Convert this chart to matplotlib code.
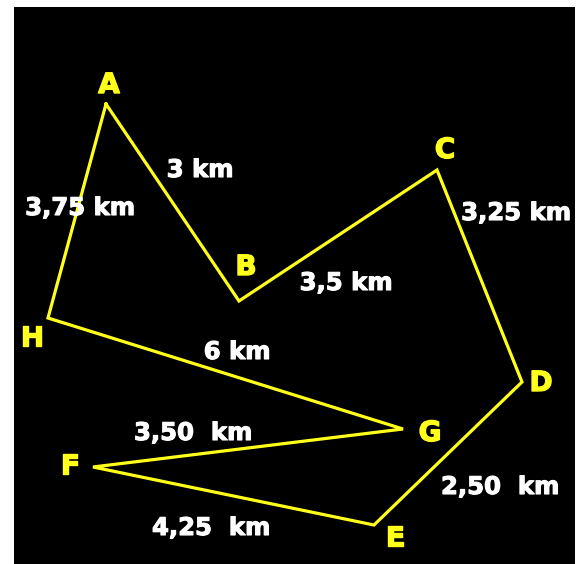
import matplotlib
matplotlib.use('Agg')
import matplotlib.pyplot as plt
import matplotlib.patheffects as pe

# 多边形顶点（像素坐标，按 A-B-C-D-E-F-G-H 顺序闭合）
names = ['A', 'B', 'C', 'D', 'E', 'F', 'G', 'H']
xs = [106, 239, 437, 522, 374, 93, 403, 48]
ys = [104, 301, 170, 382, 525, 467, 429, 318]

# 顶点字母位置
name_x = [109, 246, 445, 541, 395, 70, 430, 32]
name_y = [85, 267, 150, 383, 538, 466, 433, 338]

# 距离标注
dist_text = ['3 km', '3,5 km', '3,25 km', '2,50  km', '4,25  km',
             '3,50  km', '6 km', '3,75 km']
dist_x = [200, 346, 516, 500, 211, 193, 237, 80]
dist_y = [170, 283, 213, 487, 528, 433, 352, 208]

fig = plt.figure(figsize=(5.85, 5.64), dpi=100, facecolor='white')
ax = fig.add_axes([14 / 585, 0, (575 - 14) / 585, (564 - 7) / 564])
ax.set_facecolor('black')
ax.set_xlim(14, 575)
ax.set_ylim(564, 7)
ax.set_axis_off()
ax.add_patch(plt.Rectangle((14, 7), 561, 557, color='black', zorder=0))

ax.plot(xs + xs[:1], ys + ys[:1], color='#ffff1a', linewidth=2.3,
        solid_joinstyle='miter', zorder=2)

for n, x, y in zip(names, name_x, name_y):
    ax.text(x, y, n, color='#ffff1a', fontsize=20, fontweight='bold',
            ha='center', va='center', family='DejaVu Sans', zorder=3,
            path_effects=[pe.withStroke(linewidth=1.0, foreground='#ffff1a')])

for t, x, y in zip(dist_text, dist_x, dist_y):
    ax.text(x, y, t, color='white', fontsize=17.5, fontweight='bold',
            ha='center', va='center', family='DejaVu Sans', zorder=3,
            path_effects=[pe.withStroke(linewidth=0.8, foreground='white')])

fig.savefig('out.png', dpi=100, facecolor='white')
plt.close(fig)
